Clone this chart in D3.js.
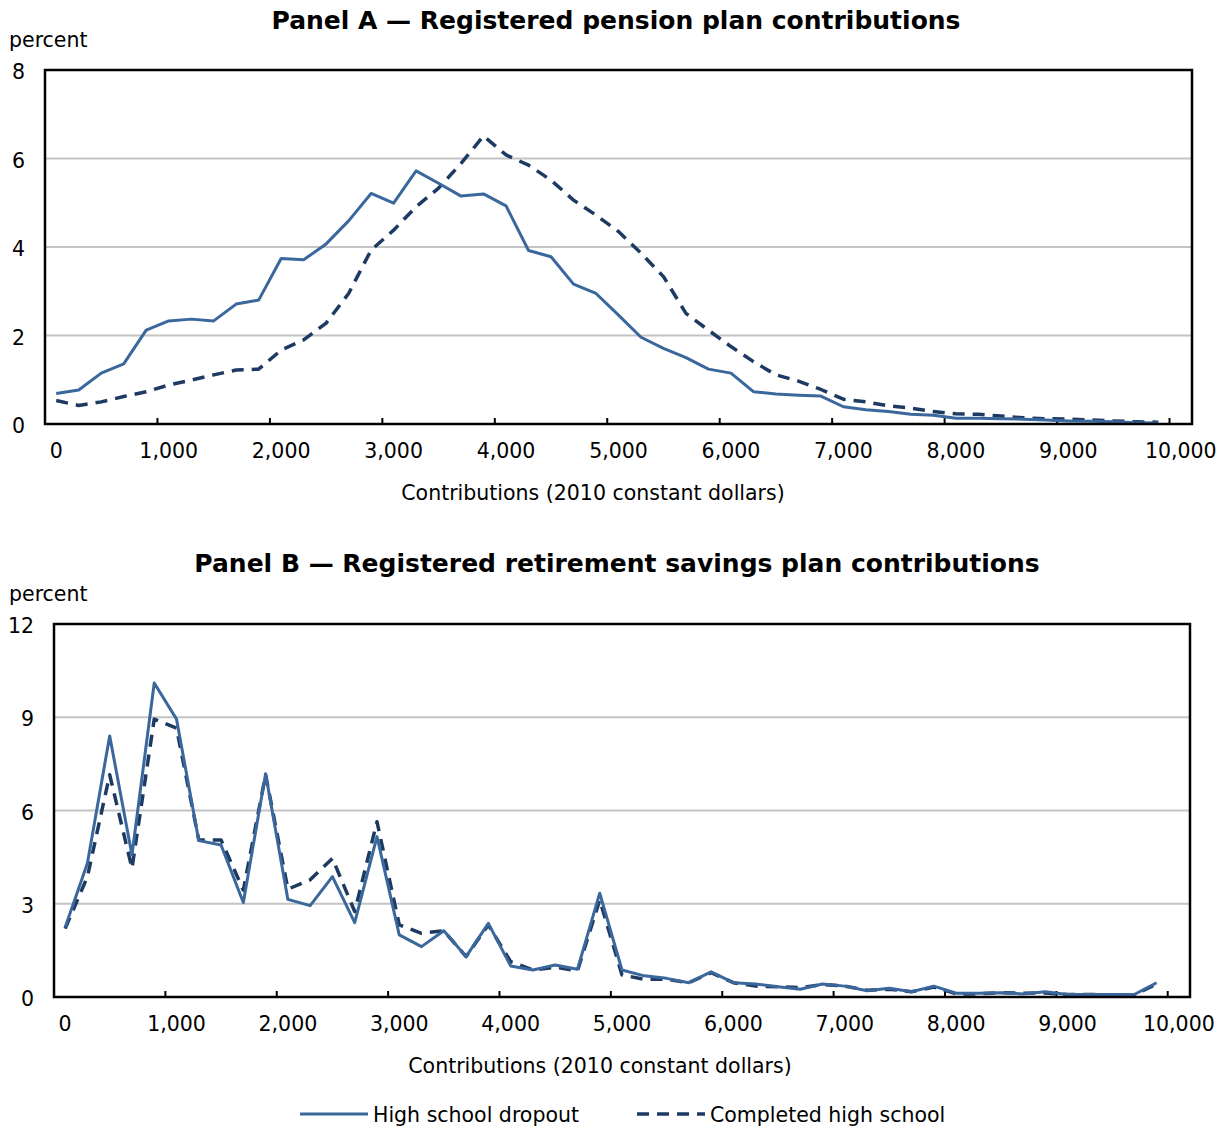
<!DOCTYPE html>
<html>
<head>
<meta charset="utf-8">
<script src="https://cdn.jsdelivr.net/npm/d3@7"></script>
<style>
  html, body { margin: 0; padding: 0; background: #fff; }
  svg { display: block; }
  text { font-family: "DejaVu Sans", Verdana, sans-serif; fill: #000; }
</style>
</head>
<body>
<svg id="chart" width="1228" height="1126"></svg>
<script>
// Contribution bins (2010 constant dollars), in steps of 200 from 0 to 10,000
const categories = d3.range(0, 10001, 200);
const xTickLabels = [0, 1000, 2000, 3000, 4000, 5000, 6000, 7000, 8000, 9000, 10000];

// Panel A — registered pension plan contributions (percent of group, bins 0..9,800)
const rppDropout = [
  0.69, 0.77, 1.15, 1.36, 2.12, 2.33, 2.37, 2.33, 2.71, 2.80,
  3.74, 3.71, 4.07, 4.59, 5.21, 4.99, 5.72, 5.44, 5.15, 5.20,
  4.93, 3.92, 3.78, 3.16, 2.95, 2.46, 1.96, 1.71, 1.50, 1.24,
  1.15, 0.73, 0.68, 0.65, 0.63, 0.39, 0.32, 0.28, 0.22, 0.20,
  0.13, 0.13, 0.12, 0.11, 0.09, 0.07, 0.06, 0.05, 0.03, 0.02
];
const rppCompleted = [
  0.53, 0.42, 0.50, 0.62, 0.73, 0.88, 0.99, 1.11, 1.22, 1.24,
  1.67, 1.90, 2.28, 2.95, 3.93, 4.38, 4.91, 5.33, 5.89, 6.51,
  6.08, 5.85, 5.51, 5.06, 4.72, 4.35, 3.86, 3.33, 2.50, 2.12,
  1.75, 1.41, 1.11, 0.97, 0.78, 0.56, 0.50, 0.41, 0.36, 0.28,
  0.23, 0.22, 0.18, 0.14, 0.12, 0.11, 0.09, 0.07, 0.05, 0.04
];

// Panel B — registered retirement savings plan contributions (percent, bins 0..9,800)
const rrspDropout = [
  2.24, 4.30, 8.40, 4.57, 10.10, 8.94, 5.03, 4.89, 3.04, 7.18,
  3.14, 2.94, 3.87, 2.39, 5.16, 2.00, 1.62, 2.13, 1.30, 2.37,
  1.00, 0.87, 1.03, 0.89, 3.34, 0.87, 0.68, 0.60, 0.46, 0.81,
  0.46, 0.42, 0.33, 0.25, 0.42, 0.35, 0.20, 0.28, 0.17, 0.35,
  0.12, 0.12, 0.14, 0.10, 0.17, 0.08, 0.08, 0.08, 0.08, 0.46
];
const rrspCompleted = [
  2.20, 3.87, 7.15, 4.14, 8.94, 8.65, 5.05, 5.05, 3.44, 7.15,
  3.47, 3.77, 4.46, 2.75, 5.64, 2.32, 2.05, 2.13, 1.30, 2.32,
  1.14, 0.87, 0.96, 0.84, 3.12, 0.71, 0.57, 0.57, 0.46, 0.78,
  0.46, 0.35, 0.33, 0.30, 0.40, 0.35, 0.22, 0.25, 0.17, 0.32,
  0.10, 0.10, 0.14, 0.12, 0.13, 0.08, 0.08, 0.07, 0.07, 0.42
];

const yTicksA = [0, 2, 4, 6, 8];
const yTicksB = [0, 3, 6, 9, 12];

const seriesNames = ["High school dropout", "Completed high school"];
const colorDropout = "#3a679c";
const colorCompleted = "#1d3a62";

const svg = d3.select("#chart");
const fmt = d3.format(",");
const labelSize = "20.5px";

function drawPanel(cfg) {
  const g = svg.append("g");
  const x = d3.scaleBand().domain(categories).range([cfg.left, cfg.right]).padding(0);
  const y = d3.scaleLinear().domain([0, cfg.yMax]).range([cfg.bottom, cfg.top]);
  const cx = v => x(v) + x.bandwidth() / 2;

  // title
  g.append("text")
    .attr("x", cfg.titleX).attr("y", cfg.titleY)
    .attr("text-anchor", "middle")
    .attr("dominant-baseline", "central")
    .style("font-weight", "bold").style("font-size", "25px")
    .text(cfg.title);

  // unit label
  g.append("text")
    .attr("x", 9).attr("y", cfg.top - 30)
    .attr("dominant-baseline", "central")
    .style("font-size", labelSize)
    .text("percent");

  // horizontal gridlines
  g.append("g").selectAll("line")
    .data(cfg.yTicks.filter(d => d > 0 && d < cfg.yMax))
    .join("line")
    .attr("x1", cfg.left).attr("x2", cfg.right)
    .attr("y1", d => y(d)).attr("y2", d => y(d))
    .attr("stroke", "#c4c4c4").attr("stroke-width", 2);

  // y tick labels
  g.append("g").selectAll("text")
    .data(cfg.yTicks)
    .join("text")
    .attr("x", cfg.yLabelX).attr("y", d => y(d) + 2)
    .attr("text-anchor", "end")
    .attr("dominant-baseline", "central")
    .style("font-size", labelSize)
    .text(d => d);

  // x axis labels at category centres
  const xAxis = d3.axisBottom(x)
    .tickValues(xTickLabels)
    .tickSize(0)
    .tickPadding(19)
    .tickFormat(d => fmt(d));
  const ax = g.append("g")
    .attr("transform", `translate(0,${cfg.bottom})`)
    .call(xAxis);
  ax.select(".domain").remove();
  ax.selectAll("text")
    .style("font-family", "\"DejaVu Sans\", Verdana, sans-serif")
    .style("font-size", labelSize)
    .attr("fill", "#000");

  // inner tick marks between categories
  g.append("g").selectAll("line")
    .data(xTickLabels.slice(1))
    .join("line")
    .attr("x1", d => x(d)).attr("x2", d => x(d))
    .attr("y1", cfg.bottom).attr("y2", cfg.bottom - 6)
    .attr("stroke", "#000").attr("stroke-width", 2);

  // x axis title
  g.append("text")
    .attr("x", cfg.axisTitleX).attr("y", cfg.bottom + 69)
    .attr("text-anchor", "middle")
    .attr("dominant-baseline", "central")
    .style("font-size", labelSize)
    .text("Contributions (2010 constant dollars)");

  const line = d3.line()
    .x((d, i) => cx(categories[i]))
    .y(d => y(d));

  g.append("path")
    .datum(cfg.completed)
    .attr("d", line)
    .attr("fill", "none")
    .attr("stroke", colorCompleted)
    .attr("stroke-width", 3.5)
    .attr("stroke-dasharray", "12,8")
    .attr("stroke-linejoin", "round");

  g.append("path")
    .datum(cfg.dropout)
    .attr("d", line)
    .attr("fill", "none")
    .attr("stroke", colorDropout)
    .attr("stroke-width", 3)
    .attr("stroke-linejoin", "round");

  // plot frame
  g.append("rect")
    .attr("x", cfg.left).attr("y", cfg.top)
    .attr("width", cfg.right - cfg.left).attr("height", cfg.bottom - cfg.top)
    .attr("fill", "none").attr("stroke", "#000").attr("stroke-width", 2.5);
}

drawPanel({
  title: "Panel A \u2014 Registered pension plan contributions",
  titleX: 616, titleY: 20,
  left: 45, right: 1192, top: 70, bottom: 424,
  yMax: 8, yTicks: yTicksA, yLabelX: 25,
  axisTitleX: 593,
  dropout: rppDropout, completed: rppCompleted
});

drawPanel({
  title: "Panel B \u2014 Registered retirement savings plan contributions",
  titleX: 617, titleY: 563,
  left: 54, right: 1190, top: 624, bottom: 997,
  yMax: 12, yTicks: yTicksB, yLabelX: 34,
  axisTitleX: 600,
  dropout: rrspDropout, completed: rrspCompleted
});

// legend
const legend = svg.append("g").attr("transform", "translate(0,1114)");
const legendItems = [
  { name: seriesNames[0], x: 300, color: colorDropout, dash: null, w: 3 },
  { name: seriesNames[1], x: 637, color: colorCompleted, dash: "12,8", w: 3.5 }
];
legendItems.forEach(it => {
  legend.append("line")
    .attr("x1", it.x).attr("x2", it.x + 68)
    .attr("y1", 0).attr("y2", 0)
    .attr("stroke", it.color).attr("stroke-width", it.w)
    .attr("stroke-dasharray", it.dash);
  legend.append("text")
    .attr("x", it.x + 73).attr("y", 1)
    .attr("dominant-baseline", "central")
    .style("font-size", labelSize)
    .text(it.name);
});
</script>
</body>
</html>
